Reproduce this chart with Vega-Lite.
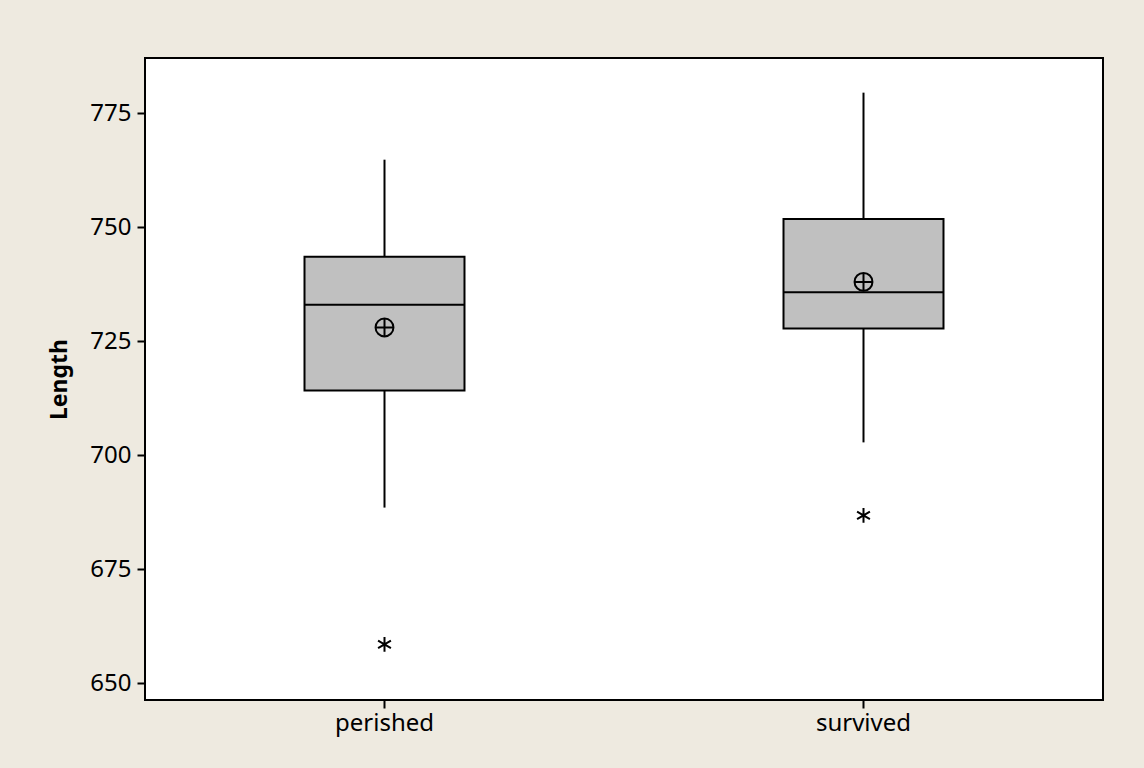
{
  "$schema": "https://vega.github.io/schema/vega-lite/v6.json",
  "width": 958,
  "height": 642,
  "autosize": {"type": "none"},
  "padding": {"left": 145, "top": 58, "right": 41, "bottom": 68},
  "background": "#EEEAE0",
  "config": {
    "view": {"fill": "white", "stroke": "black", "strokeWidth": 2},
    "axis": {
      "domain": false,
      "grid": false,
      "tickColor": "black",
      "tickWidth": 2,
      "tickSize": 8,
      "labelFont": "Noto Sans",
      "labelFontSize": 24,
      "labelColor": "black",
      "titleFont": "Noto Sans",
      "titleFontSize": 23,
      "titleFontWeight": "bold",
      "titleColor": "black"
    },
    "axisX": {"labelPadding": 3, "labelAngle": 0},
    "axisY": {"labelPadding": 6, "titlePadding": 18}
  },
  "datasets": {
    "box": [
      {"group": "perished", "lower": 688.5, "q1": 714.2, "median": 733.0, "q3": 743.5, "upper": 764.8, "mean": 728.0},
      {"group": "survived", "lower": 702.8, "q1": 727.8, "median": 735.7, "q3": 751.8, "upper": 779.5, "mean": 738.0}
    ],
    "outliers": [
      {"group": "perished", "value": 658.5},
      {"group": "survived", "value": 686.8}
    ]
  },
  "encoding": {
    "x": {
      "field": "group",
      "type": "nominal",
      "title": null,
      "scale": {"type": "band", "paddingInner": 0.666, "paddingOuter": 0.333}
    }
  },
  "layer": [
    {
      "data": {"name": "box"},
      "mark": {"type": "rule", "color": "black", "strokeWidth": 2},
      "encoding": {
        "y": {"field": "q3", "type": "quantitative", "title": "Length",
              "scale": {"domain": [646.3, 787.1], "nice": false, "zero": false},
              "axis": {"values": [650, 675, 700, 725, 750, 775]}},
        "y2": {"field": "upper"}
      }
    },
    {
      "data": {"name": "box"},
      "mark": {"type": "rule", "color": "black", "strokeWidth": 2},
      "encoding": {
        "y": {"field": "lower", "type": "quantitative", "title": "Length"},
        "y2": {"field": "q1"}
      }
    },
    {
      "data": {"name": "box"},
      "mark": {"type": "bar", "fill": "#C0C0C0", "stroke": "black", "strokeWidth": 2},
      "encoding": {
        "y": {"field": "q1", "type": "quantitative", "title": "Length"},
        "y2": {"field": "q3"}
      }
    },
    {
      "data": {"name": "box"},
      "mark": {"type": "tick", "color": "black", "size": 160, "thickness": 2, "orient": "horizontal", "opacity": 1},
      "encoding": {
        "y": {"field": "median", "type": "quantitative", "title": "Length"}
      }
    },
    {
      "data": {"name": "box"},
      "mark": {"type": "point", "shape": "circle", "size": 320, "stroke": "black", "strokeWidth": 2, "filled": false, "opacity": 1},
      "encoding": {
        "y": {"field": "mean", "type": "quantitative", "title": "Length"}
      }
    },
    {
      "data": {"name": "box"},
      "mark": {"type": "point", "shape": "M-1,0H1M0,-1V1", "size": 320, "stroke": "black", "strokeWidth": 2, "filled": false, "opacity": 1},
      "encoding": {
        "y": {"field": "mean", "type": "quantitative", "title": "Length"}
      }
    },
    {
      "data": {"name": "outliers"},
      "mark": {"type": "point", "shape": "M0,-1V1M-0.866,-0.5L0.866,0.5M-0.866,0.5L0.866,-0.5", "size": 220, "stroke": "black", "strokeWidth": 2, "filled": false, "opacity": 1},
      "encoding": {
        "y": {"field": "value", "type": "quantitative", "title": "Length"}
      }
    }
  ]
}
